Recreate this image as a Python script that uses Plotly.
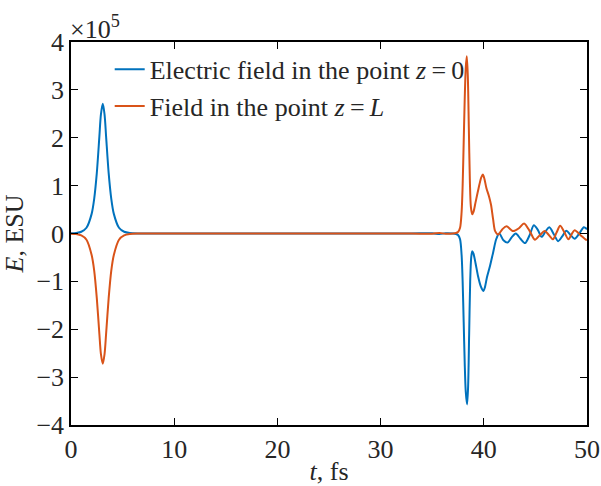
import plotly.graph_objects as go

# time axis (fs) and field values in units of 1e5 ESU
t_blue = [0, 0.5, 1.0, 1.5, 2.0, 2.25, 2.5, 2.75, 2.9, 3.08, 3.25, 3.4, 3.65, 3.9, 4.15, 4.65, 5.15, 5.7, 6.5,
          10, 20, 30, 33, 35, 35.7, 36.3, 37.0, 37.3, 37.5, 37.7, 37.85, 37.95, 38.05, 38.15, 38.25, 38.38,
          38.48, 38.58, 38.68, 38.78, 38.88, 39.0, 39.2, 39.45, 39.7, 39.95, 40.1, 40.3, 40.6, 40.9, 41.2,
          41.5, 41.9, 42.3, 42.7, 43.1, 43.55, 44.0, 44.45, 44.85, 45.25, 45.6, 46.0, 46.35, 46.8, 47.2,
          47.6, 48.0, 48.4, 48.8, 49.25, 49.7, 50.0]
e_blue = [0.003, 0.011, 0.037, 0.12, 0.41, 0.73, 1.26, 2.03, 2.49, 2.71, 2.49, 2.03, 1.26, 0.73, 0.41, 0.12, 0.037, 0.011, 0.002,
          0.0, 0.0, 0.0, 0.0, 0.005, -0.01, 0.004, 0.0, -0.01, -0.03, -0.12, -0.45, -1.0, -1.85, -2.7, -3.3, -3.57,
          -3.2, -2.1, -1.0, -0.5, -0.37, -0.42, -0.62, -0.9, -1.1, -1.2, -1.13, -0.92, -0.68, -0.4, -0.12,
          0.0, -0.14, -0.19, -0.08, 0.0, -0.11, -0.2, -0.03, 0.17, 0.07, -0.07, 0.05, 0.13, -0.02, -0.16,
          -0.06, 0.06, -0.03, -0.11, 0.0, 0.13, 0.09]

t_orange = [0, 0.5, 1.0, 1.5, 2.0, 2.25, 2.5, 2.75, 2.9, 3.08, 3.25, 3.4, 3.65, 3.9, 4.15, 4.65, 5.15, 5.7, 6.5,
            10, 20, 30, 33, 35, 35.7, 36.3, 37.0, 37.3, 37.5, 37.7, 37.85, 37.95, 38.05, 38.15, 38.25, 38.35,
            38.45, 38.55, 38.65, 38.75, 38.88, 39.0, 39.2, 39.5, 39.75, 39.9, 40.05, 40.25, 40.5, 40.7, 40.9,
            41.1, 41.4, 41.8, 42.2, 42.85, 43.4, 43.9, 44.45, 44.95, 45.45, 45.9, 46.3, 46.7, 47.05, 47.4,
            47.8, 48.2, 48.5, 48.8, 49.4, 49.9, 50.0]
e_orange = [-0.003, -0.011, -0.04, -0.13, -0.45, -0.78, -1.35, -2.1, -2.52, -2.72, -2.52, -2.1, -1.35, -0.78, -0.45, -0.13, -0.04, -0.011, -0.002,
            0.0, 0.0, 0.0, 0.0, -0.005, 0.01, -0.004, 0.0, 0.01, 0.03, 0.12, 0.45, 1.0, 1.9, 2.8, 3.45, 3.7,
            3.3, 2.2, 1.1, 0.55, 0.4, 0.45, 0.65, 0.95, 1.17, 1.23, 1.15, 0.95, 0.78, 0.6, 0.3,
            0.05, -0.02, 0.09, 0.15, 0.05, 0.11, 0.21, 0.05, -0.13, -0.03, 0.05, -0.03, -0.12, 0.02, 0.16,
            0.03, -0.12, -0.02, 0.07, -0.04, -0.13, -0.13]

names = ["Electric field in the point <i>z</i>\u2009=\u20090", "Field in the point <i>z</i>\u2009=\u2009<i>L</i>"]
colors = ["#0072BD", "#D95319"]

x_ticks = [0, 10, 20, 30, 40, 50]
y_ticks = [-4, -3, -2, -1, 0, 1, 2, 3, 4]

FONT = "Liberation Serif"
FS = 26

fig = go.Figure()
fig.add_trace(go.Scatter(x=t_blue, y=e_blue, mode="lines", name=names[0],
                         line=dict(color=colors[0], width=2, shape="spline", smoothing=0.8)))
fig.add_trace(go.Scatter(x=t_orange, y=e_orange, mode="lines", name=names[1],
                         line=dict(color=colors[1], width=2, shape="spline", smoothing=0.8)))

axis_common = dict(showline=True, linecolor="black", linewidth=1.5, mirror="allticks",
                   ticks="inside", ticklen=7, tickwidth=1.2, tickcolor="black",
                   showgrid=False, zeroline=False, automargin=False,
                   tickfont=dict(family=FONT, size=FS, color="#262626"))

fig.update_layout(
    width=601, height=486, autosize=False,
    margin=dict(l=71, r=14, t=42, b=61),
    paper_bgcolor="white", plot_bgcolor="white",
    font=dict(family=FONT, size=FS, color="#262626"),
    showlegend=True,
    legend=dict(x=0.075, y=0.99, xanchor="left", yanchor="top", bgcolor="rgba(0,0,0,0)",
                font=dict(family=FONT, size=FS, color="#262626"), tracegroupgap=0),
    xaxis=dict(range=[0, 50], tickvals=x_ticks, ticktext=[str(v) for v in x_ticks],
               title=dict(text="<i>t</i>, fs", font=dict(family=FONT, size=FS), standoff=0),
               **axis_common),
    yaxis=dict(range=[-4, 4], tickvals=y_ticks,
               ticktext=[("\u2212" + str(-v)) if v < 0 else str(v) for v in y_ticks],
               title=dict(text="<i>E</i>, ESU", font=dict(family=FONT, size=FS), standoff=10),
               **axis_common),
)

fig.add_annotation(text="\u00d710<sup>5</sup>", xref="paper", yref="paper", x=-0.005, y=1.0,
                   xanchor="left", yanchor="bottom", showarrow=False, yshift=-4,
                   font=dict(family=FONT, size=FS, color="#262626"))

fig.write_html("out.html")
